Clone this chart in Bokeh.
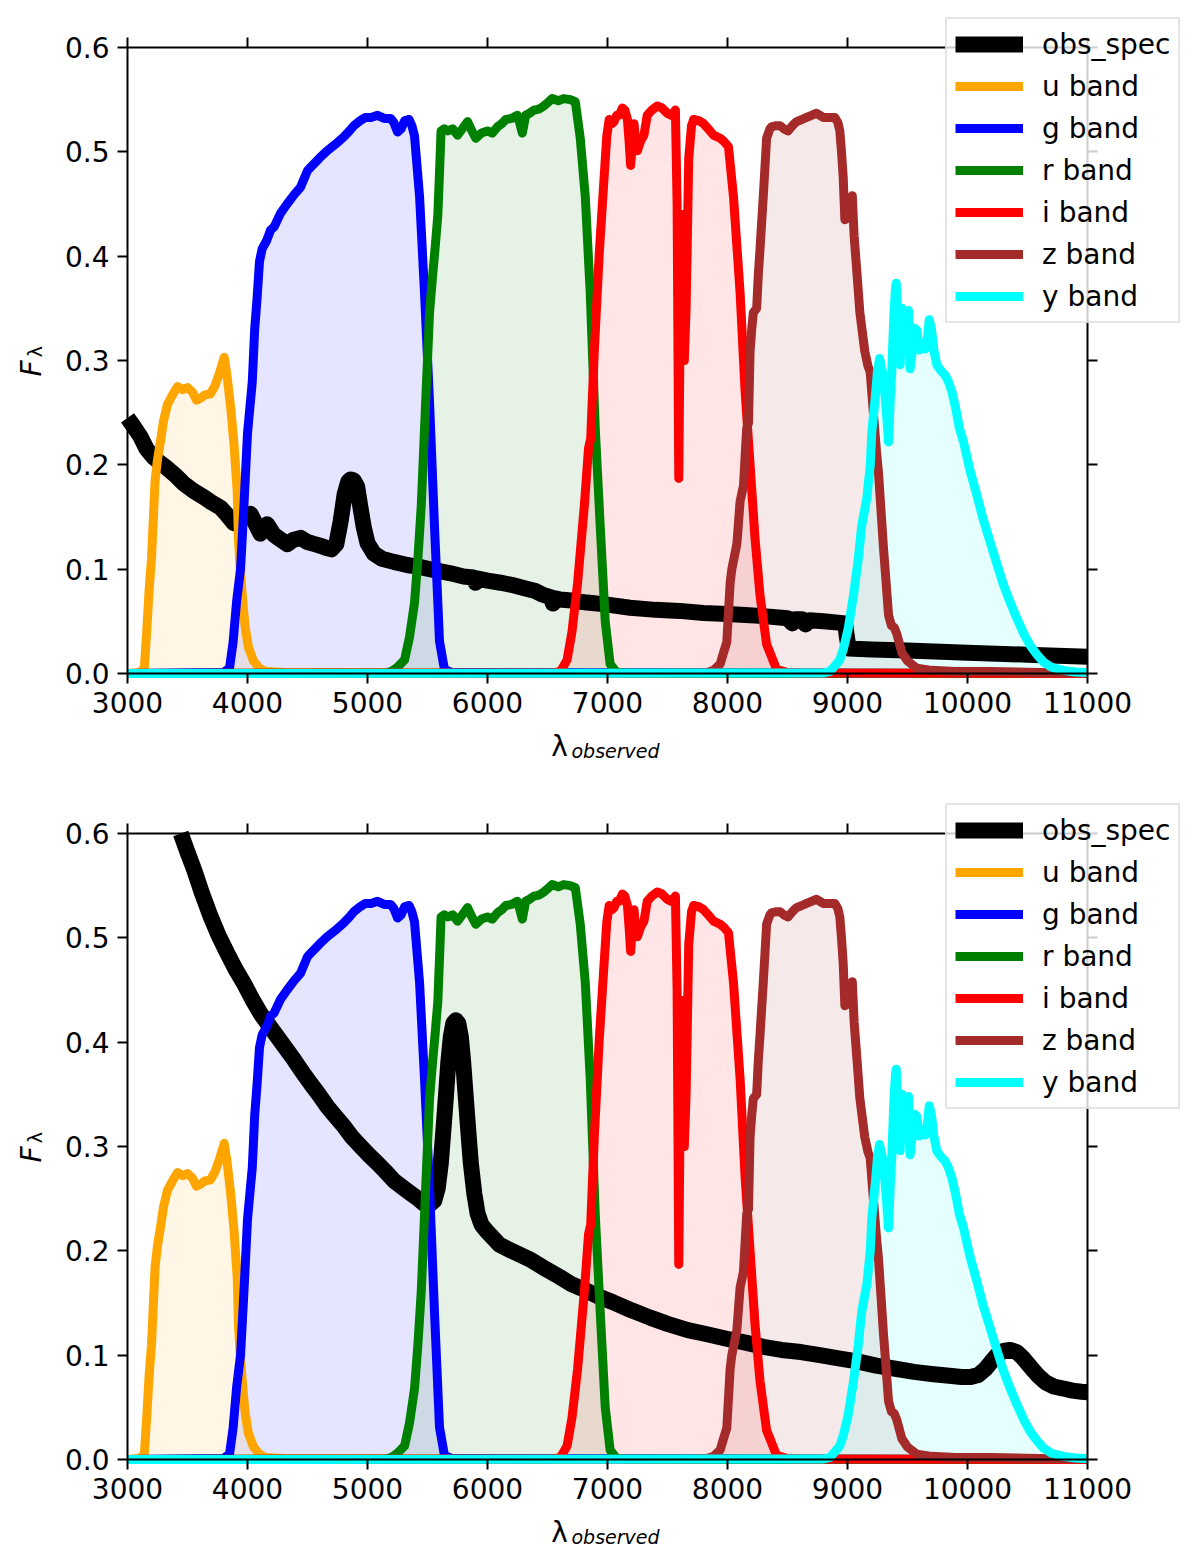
import numpy as np
from bokeh.plotting import figure
from bokeh.models import (Range1d, LinearAxis, FixedTicker, PrintfTickFormatter,
                          CustomJSTickFormatter, Legend, LegendItem, Label,
                          ColumnDataSource)
from bokeh.layouts import column
from bokeh.embed import file_html
from bokeh.resources import INLINE

FONT = "DejaVu Sans"

# ---------------- data ----------------
x_ticks = [3000, 4000, 5000, 6000, 7000, 8000, 9000, 10000, 11000]
y_ticks = [0.0, 0.1, 0.2, 0.3, 0.4, 0.5, 0.6]

u_wave = [3000, 3100, 3140, 3160, 3180, 3200, 3230, 3250, 3278, 3300, 3333, 3380, 3417,
          3460, 3500, 3540, 3575, 3610, 3645, 3690, 3730, 3764, 3806, 3830, 3860, 3886,
          3914, 3925, 3942, 3960, 3980, 4008, 4050, 4100, 4150, 4300, 11000]
u_vals = [0.0, 0.001, 0.005, 0.04, 0.08, 0.11, 0.185, 0.205, 0.225, 0.242, 0.258, 0.268,
          0.275, 0.272, 0.274, 0.27, 0.262, 0.264, 0.267, 0.268, 0.276, 0.287, 0.303, 0.285,
          0.255, 0.222, 0.175, 0.128, 0.096, 0.07, 0.045, 0.025, 0.012, 0.005, 0.002, 0.001, 0.0]

g_wave = [3000, 3800, 3850, 3880, 3910, 3942, 3970, 4000, 4040, 4060, 4080, 4100, 4122,
          4160, 4192, 4222, 4275, 4330, 4389, 4442, 4500, 4525, 4600, 4664, 4730, 4800,
          4850, 4886, 4940, 4983, 5030, 5083, 5140, 5192, 5220, 5250, 5280, 5310, 5347,
          5370, 5392, 5434, 5475, 5517, 5558, 5600, 5641, 5700, 11000]
g_vals = [0.0, 0.001, 0.005, 0.03, 0.07, 0.1, 0.16, 0.23, 0.28, 0.33, 0.36, 0.395, 0.407,
          0.415, 0.425, 0.428, 0.441, 0.45, 0.459, 0.466, 0.482, 0.485, 0.494, 0.501, 0.507,
          0.514, 0.52, 0.525, 0.53, 0.533, 0.533, 0.535, 0.532, 0.532, 0.528, 0.519, 0.522,
          0.53, 0.531, 0.525, 0.515, 0.457, 0.365, 0.26, 0.142, 0.031, 0.004, 0.001, 0.0]

r_wave = [3000, 5150, 5199, 5250, 5309, 5350, 5392, 5420, 5448, 5470, 5489, 5517, 5544,
          5565, 5586, 5600, 5613, 5640, 5669, 5710, 5751, 5790, 5834, 5870, 5903, 5950,
          6000, 6040, 6083, 6120, 6152, 6200, 6249, 6270, 6290, 6318, 6350, 6387, 6430,
          6470, 6500, 6539, 6590, 6635, 6690, 6732, 6773, 6815, 6856, 6898, 6939, 6981,
          7022, 7077, 7150, 11000]
r_vals = [0.0, 0.0005, 0.002, 0.006, 0.013, 0.035, 0.068, 0.11, 0.161, 0.22, 0.272, 0.346,
          0.383, 0.41, 0.439, 0.48, 0.52, 0.522, 0.52, 0.522, 0.516, 0.522, 0.529, 0.52,
          0.513, 0.518, 0.52, 0.518, 0.524, 0.527, 0.531, 0.532, 0.535, 0.527, 0.518, 0.535,
          0.537, 0.54, 0.541, 0.544, 0.547, 0.551, 0.549, 0.551, 0.55, 0.548, 0.513, 0.457,
          0.365, 0.235, 0.142, 0.05, 0.009, 0.001, 0.0005, 0.0]

i_wave = [3000, 6550, 6608, 6663, 6704, 6751, 6807, 6842, 6860, 6890, 6931, 6972, 6994,
          7014, 7036, 7055, 7077, 7097, 7124, 7145, 7166, 7180, 7193, 7207, 7221, 7235,
          7249, 7275, 7304, 7331, 7370, 7414, 7455, 7497, 7530, 7566, 7580, 7594, 7610,
          7625, 7640, 7655, 7677, 7700, 7718, 7760, 7801, 7840, 7884, 7939, 7970, 8008,
          8050, 8105, 8146, 8188, 8229, 8271, 8326, 8409, 8500, 8604, 11000]
i_vals = [0.0, 0.0005, 0.002, 0.013, 0.04, 0.087, 0.161, 0.216, 0.225, 0.309, 0.402, 0.476,
          0.515, 0.531, 0.527, 0.529, 0.535, 0.535, 0.542, 0.54, 0.531, 0.51, 0.487, 0.51,
          0.527, 0.51, 0.501, 0.51, 0.516, 0.535, 0.54, 0.544, 0.542, 0.537, 0.535, 0.54,
          0.45, 0.187, 0.40, 0.44, 0.30, 0.35, 0.494, 0.525, 0.531, 0.53, 0.527, 0.522,
          0.516, 0.513, 0.51, 0.505, 0.457, 0.365, 0.272, 0.2, 0.13, 0.075, 0.028, 0.004,
          0.001, 0.0005, 0.0]

z_wave = [3000, 7750, 7829, 7884, 7939, 7967, 7994, 8022, 8036, 8078, 8105, 8133, 8160,
          8175, 8188, 8202, 8215, 8243, 8257, 8271, 8298, 8326, 8353, 8368, 8400, 8438,
          8470, 8505, 8540, 8576, 8620, 8659, 8700, 8742, 8770, 8798, 8850, 8895, 8920,
          8936, 8950, 8964, 8978, 8992, 9006, 9020, 9040, 9055, 9078, 9103, 9144, 9170,
          9189, 9217, 9240, 9258, 9280, 9300, 9320, 9342, 9366, 9390, 9411, 9453, 9500,
          9578, 9700, 9900, 10200, 10600, 11000]
z_vals = [0.0, 0.0005, 0.001, 0.003, 0.009, 0.02, 0.03, 0.087, 0.1, 0.124, 0.165, 0.18,
          0.235, 0.24, 0.309, 0.33, 0.346, 0.35, 0.383, 0.407, 0.457, 0.513, 0.522, 0.524,
          0.525, 0.525, 0.522, 0.52, 0.525, 0.529, 0.531, 0.533, 0.535, 0.537, 0.535,
          0.533, 0.533, 0.533, 0.528, 0.52, 0.5, 0.476, 0.435, 0.436, 0.439, 0.455, 0.458,
          0.42, 0.385, 0.346, 0.309, 0.295, 0.289, 0.248, 0.215, 0.193, 0.155, 0.12, 0.09,
          0.056, 0.046, 0.044, 0.038, 0.02, 0.012, 0.005, 0.003, 0.002, 0.002, 0.001, 0.0005]

y_wave = [3000, 8800, 8856, 8936, 8967, 9006, 9050, 9090, 9119, 9161, 9190, 9203, 9231,
          9250, 9267, 9290, 9306, 9325, 9342, 9355, 9369, 9385, 9400, 9406, 9420, 9439,
          9452, 9467, 9480, 9495, 9508, 9522, 9540, 9560, 9578, 9600, 9620, 9647, 9665,
          9681, 9700, 9720, 9744, 9780, 9814, 9840, 9870, 9900, 9933, 9967, 10020, 10078,
          10130, 10189, 10245, 10300, 10360, 10411, 10470, 10522, 10580, 10633, 10700,
          10800, 10900, 11000]
y_vals = [0.0, 0.0005, 0.002, 0.013, 0.024, 0.043, 0.075, 0.11, 0.142, 0.168, 0.2, 0.232,
          0.264, 0.29, 0.302, 0.29, 0.275, 0.25, 0.222, 0.26, 0.29, 0.34, 0.37, 0.374, 0.34,
          0.296, 0.35, 0.327, 0.31, 0.34, 0.348, 0.292, 0.31, 0.331, 0.329, 0.31, 0.315,
          0.311, 0.32, 0.339, 0.33, 0.31, 0.296, 0.29, 0.286, 0.28, 0.27, 0.255, 0.235,
          0.222, 0.195, 0.171, 0.148, 0.126, 0.105, 0.085, 0.067, 0.053, 0.038, 0.027,
          0.018, 0.011, 0.006, 0.003, 0.0015, 0.001]

# observed spectrum, top panel
obs1_wave = [3000, 3050, 3108, 3160, 3219, 3270, 3317, 3400, 3469, 3550, 3636, 3700, 3775,
             3830, 3886, 3920, 3960, 4000, 4025, 4060, 4108, 4135, 4164, 4220, 4280, 4331,
             4380, 4442, 4500, 4560, 4620, 4664, 4700, 4740, 4775, 4810, 4840, 4858, 4885,
             4914, 4940, 4969, 5000, 5053, 5120, 5219, 5330, 5442, 5560, 5692, 5800, 5880,
             5900, 5920, 6000, 6108, 6200, 6300, 6400, 6450, 6500, 6530, 6545, 6560, 6600,
             6700, 6829, 7000, 7188, 7400, 7600, 7800, 8000, 8150, 8300, 8500, 8540, 8560,
             8620, 8650, 8680, 8800, 8900, 8980, 8995, 9010, 9200, 9500, 10000, 10500, 11000]
obs1_flux = [0.245, 0.237, 0.227, 0.215, 0.207, 0.202, 0.198, 0.19, 0.182, 0.175, 0.169,
             0.164, 0.159, 0.152, 0.144, 0.148, 0.15, 0.152, 0.153, 0.145, 0.134, 0.14,
             0.143, 0.133, 0.128, 0.124, 0.128, 0.13, 0.126, 0.124, 0.122, 0.12, 0.119,
             0.124, 0.145, 0.172, 0.184, 0.186, 0.185, 0.179, 0.16, 0.14, 0.125, 0.115, 0.11,
             0.107, 0.104, 0.102, 0.099, 0.096, 0.093, 0.092, 0.087, 0.091, 0.089, 0.087,
             0.085, 0.082, 0.079, 0.076, 0.074, 0.073, 0.067, 0.072, 0.071, 0.07, 0.068,
             0.066, 0.063, 0.061, 0.06, 0.058, 0.057, 0.056, 0.055, 0.053, 0.048, 0.052,
             0.052, 0.047, 0.051, 0.05, 0.049, 0.048, 0.035, 0.024, 0.023, 0.022, 0.020,
             0.018, 0.016]

# observed spectrum, bottom panel
obs2_wave = [3444, 3500, 3556, 3620, 3694, 3760, 3833, 3900, 3972, 4040, 4111, 4180,
             4250, 4320, 4389, 4460, 4528, 4600, 4667, 4740, 4806, 4870, 4944, 5010, 5083,
             5150, 5222, 5290, 5361, 5420, 5472, 5515, 5556, 5585, 5611, 5632, 5653, 5673,
             5694, 5715, 5736, 5757, 5778, 5798, 5819, 5840, 5861, 5890, 5917, 5950, 6000,
             6098, 6200, 6350, 6480, 6601, 6700, 6821, 6930, 7041, 7200, 7355, 7500, 7669,
             7830, 7983, 8150, 8298, 8450, 8612, 8770, 8926, 9080, 9240, 9400, 9554, 9700,
             9869, 9950, 10026, 10090, 10151, 10200, 10245, 10300, 10355, 10410, 10465,
             10530, 10591, 10650, 10717, 10800, 10874, 10950, 11000]
obs2_flux = [0.600, 0.582, 0.565, 0.543, 0.52, 0.502, 0.485, 0.47, 0.456, 0.441,
             0.427, 0.416, 0.405, 0.394, 0.383, 0.371, 0.36, 0.349, 0.338, 0.328, 0.319,
             0.309, 0.30, 0.292, 0.284, 0.276, 0.267, 0.261, 0.255, 0.25, 0.245, 0.244,
             0.248, 0.26, 0.284, 0.315, 0.347, 0.38, 0.405, 0.418, 0.421, 0.418, 0.405,
             0.38, 0.347, 0.315, 0.284, 0.255, 0.236, 0.225, 0.218, 0.206, 0.2, 0.192,
             0.183, 0.175, 0.168, 0.162, 0.156, 0.151, 0.143, 0.136, 0.13, 0.124, 0.12,
             0.116, 0.112, 0.108, 0.105, 0.103, 0.1, 0.097, 0.094, 0.09, 0.087, 0.084,
             0.082, 0.08, 0.079, 0.079, 0.081, 0.087, 0.094, 0.1, 0.104, 0.105, 0.103,
             0.097, 0.088, 0.08, 0.074, 0.07, 0.068, 0.066, 0.065, 0.0645]

band_names = ["u band", "g band", "r band", "i band", "z band", "y band"]
band_colors = ["orange", "blue", "green", "red", "brown", "cyan"]
band_waves = [u_wave, g_wave, r_wave, i_wave, z_wave, y_wave]
band_vals = [u_vals, g_vals, r_vals, i_vals, z_vals, y_vals]

# page geometry (pixels): axes box left/right
BOX_L, BOX_R = 127, 1087
PX_PER_X = (BOX_R - BOX_L) / 8000.0


def style_axis(ax, show_labels, fmt=None):
    ax.axis_line_color = "black"
    ax.axis_line_width = 2
    ax.major_tick_line_color = "black"
    ax.major_tick_line_width = 2
    ax.major_tick_out = 10
    ax.major_tick_in = 0
    ax.minor_tick_line_color = None
    ax.major_label_text_font = FONT
    ax.major_label_text_font_size = "28px"
    ax.major_label_text_color = "black"
    ax.major_label_standoff = 8
    if show_labels:
        ax.formatter = fmt
    else:
        ax.formatter = CustomJSTickFormatter(code="return ''")


def make_panel(obs_w, obs_f, height, box_top, box_bottom, legend_bottom):
    # frame fills the whole canvas; axes are pinned at the data box edges
    px_per_y = (box_bottom - box_top) / 0.6
    x0 = 3000 - BOX_L / PX_PER_X
    x1 = 3000 + (1200 - BOX_L) / PX_PER_X
    y0 = -(height - box_bottom) / px_per_y
    y1 = box_bottom / px_per_y
    p = figure(width=1200, height=height, output_backend="svg", toolbar_location=None,
               x_range=Range1d(x0, x1), y_range=Range1d(y0, y1),
               x_axis_type=None, y_axis_type=None, min_border=0)
    p.outline_line_color = None
    p.background_fill_color = "white"
    p.border_fill_color = "white"

    xb = LinearAxis(ticker=FixedTicker(ticks=x_ticks), fixed_location=0.0,
                    bounds=(3000, 11000))
    style_axis(xb, True, PrintfTickFormatter(format="%d"))
    p.add_layout(xb, "below")
    yl = LinearAxis(ticker=FixedTicker(ticks=y_ticks), fixed_location=3000,
                    bounds=(0, 0.6))
    style_axis(yl, True, PrintfTickFormatter(format="%.1f"))
    p.add_layout(yl, "left")
    xt = LinearAxis(ticker=FixedTicker(ticks=x_ticks), fixed_location=0.6,
                    bounds=(3000, 11000))
    style_axis(xt, False)
    p.add_layout(xt, "above")
    yr = LinearAxis(ticker=FixedTicker(ticks=y_ticks), fixed_location=11000,
                    bounds=(0, 0.6))
    style_axis(yr, False)
    p.add_layout(yr, "right")

    sources = [ColumnDataSource(dict(x=w, y=v)) for w, v in zip(band_waves, band_vals)]
    for s, col in zip(sources, band_colors):
        p.varea(x="x", y1=0, y2="y", source=s, fill_color=col, fill_alpha=0.1)

    items = []
    src = ColumnDataSource(dict(x=obs_w, y=obs_f))
    r_obs = p.line("x", "y", source=src, line_color="black", line_width=16,
                   line_join="round")
    items.append(LegendItem(label="obs_spec", renderers=[r_obs]))

    for name, col, s in zip(band_names, band_colors, sources):
        rl = p.line("x", "y", source=s, line_color=col, line_width=9, line_join="round")
        items.append(LegendItem(label=name, renderers=[rl]))

    legend = Legend(items=items, location=(945, height - legend_bottom),
                    orientation="vertical",
                    label_text_font=FONT, label_text_font_size="28px",
                    label_text_color="black",
                    glyph_width=68, glyph_height=34, label_height=34,
                    label_standoff=19, spacing=8, padding=8, margin=0,
                    border_line_color="#cccccc", border_line_width=2,
                    background_fill_color="white", background_fill_alpha=0.8)
    p.add_layout(legend)

    # axis labels (lambda_observed and F_lambda)
    def ydat(off_px):  # pixels below the box bottom -> data y
        return -off_px / px_per_y

    labels = [
        Label(x=6600, y=ydat(73), text="λ", text_font=FONT,
              text_font_size="28px", text_align="center",
              text_baseline="alphabetic", text_color="black"),
        Label(x=6700, y=ydat(77), text="observed", text_font=FONT,
              text_font_size="19px", text_font_style="italic",
              text_align="left", text_baseline="alphabetic", text_color="black"),
        Label(x=2200, y=0.2847, text="F", text_font=FONT,
              text_font_size="28px", text_font_style="italic",
              angle=np.pi / 2, text_align="left",
              text_baseline="alphabetic", text_color="black"),
        Label(x=2233, y=0.303, text="λ", text_font=FONT,
              text_font_size="19px", angle=np.pi / 2, text_align="left",
              text_baseline="alphabetic", text_color="black"),
    ]
    for lab in labels:
        p.add_layout(lab)
    return p


p1 = make_panel(obs1_wave, obs1_flux, 785, 47, 673, 323)
p2 = make_panel(obs2_wave, obs2_flux, 782, 833 - 785, 1459 - 785, 1109 - 785)

layout = column(p1, p2, spacing=0)
open("out.html", "w").write(file_html(layout, INLINE))
